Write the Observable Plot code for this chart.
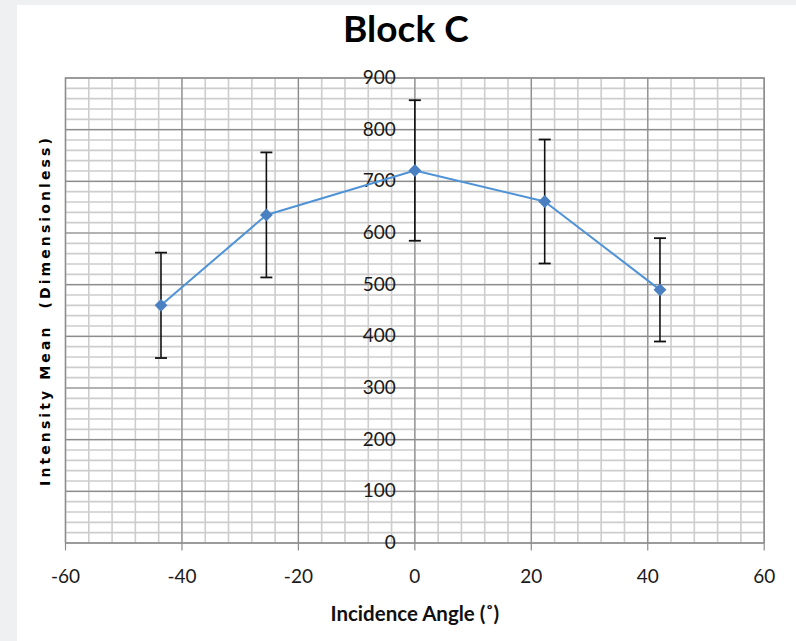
<!DOCTYPE html>
<html>
<head>
<meta charset="utf-8">
<script src="https://cdn.jsdelivr.net/npm/d3@7"></script>
<script src="https://cdn.jsdelivr.net/npm/@observablehq/plot@0.6"></script>
<style>
  html, body { margin: 0; padding: 0; }
  body { width: 796px; height: 641px; background: #eef0f2; position: relative; overflow: hidden; }
  #card { position: absolute; left: 17px; top: 5px; right: 0; bottom: 0; background: #ffffff; }
  #chart { position: absolute; left: 0; top: 0; }
</style>
</head>
<body>
<div id="card"></div>
<div id="chart"></div>
<script>
// Data
const angles = [-43.6, -25.5, 0, 22.3, 42.1];
const means  = [460, 635, 721, 661, 490];
const errors = [102, 121, 136, 120, 100];
const xTicks = [-60, -40, -20, 0, 20, 40, 60];
const yTicks = [0, 100, 200, 300, 400, 500, 600, 700, 800, 900];
const titleText = "Block C";
const xLabel = "Incidence Angle (˚)";
const yLabel = "Intensity Mean  (Dimensionless)";

const data = angles.map((a, i) => ({x: a, y: means[i], lo: means[i] - errors[i], hi: means[i] + errors[i]}));
const xMinor = d3.range(-60, 61, 4);
const yMinor = d3.range(0, 901, 20);

const capSymbol = {
  draw(context) {
    context.moveTo(-6, 0);
    context.lineTo(6, 0);
  }
};

const tickFont = "Lato, 'Open Sans', sans-serif";

const chart = Plot.plot({
  width: 796,
  height: 641,
  marginLeft: 65,
  marginRight: 32.3,
  marginTop: 77.5,
  marginBottom: 98.5,
  style: {background: "transparent", fontFamily: tickFont},
  x: {domain: [-60, 60], axis: null},
  y: {domain: [0, 900], axis: null},
  marks: [
    Plot.ruleX(xMinor, {stroke: "#cdcdcd", strokeWidth: 1.6}),
    Plot.ruleY(yMinor, {stroke: "#cdcdcd", strokeWidth: 1.6}),
    Plot.ruleX(xTicks, {stroke: "#8c8c8c", strokeWidth: 1.2}),
    Plot.ruleY(yTicks, {stroke: "#8c8c8c", strokeWidth: 1.2}),
    Plot.frame({stroke: "#8c8c8c", strokeWidth: 1.2}),
    Plot.axisX({ticks: xTicks, tickSize: 8, tickFormat: () => "", label: null, stroke: "#8c8c8c", strokeWidth: 1.2}),
    Plot.text(xTicks, {x: d => d, text: d => String(d), frameAnchor: "bottom", dy: 34, lineAnchor: "middle", fontSize: 19, fill: "#1a1a1a"}),
    Plot.text(yTicks, {x: 0, y: d => d, text: d => String(d), textAnchor: "end", dx: -19, fontSize: 19, fill: "#1a1a1a"}),
    // error bars
    Plot.ruleX(data, {x: "x", y1: "lo", y2: "hi", stroke: "#111", strokeWidth: 1.6}),
    Plot.dot(data, {x: "x", y: "lo", symbol: capSymbol, stroke: "#111", strokeWidth: 1.8, r: 6}),
    Plot.dot(data, {x: "x", y: "hi", symbol: capSymbol, stroke: "#111", strokeWidth: 1.8, r: 6}),
    // series
    Plot.line(data, {x: "x", y: "y", stroke: "#4f93d6", strokeWidth: 2}),
    Plot.dot(data, {x: "x", y: "y", symbol: "diamond2", r: 5.8, fill: "#4a7fc1", stroke: "none"}),
    // titles
    Plot.text([titleText], {frameAnchor: "top", dx: -9, dy: -48, lineAnchor: "middle", fontSize: 37, fontWeight: "bold", fill: "#000"}),
    Plot.text([xLabel], {frameAnchor: "bottom", dy: 71, lineAnchor: "middle", fontSize: 20.5, fontWeight: "bold", fill: "#111"}),
    Plot.text([yLabel], {frameAnchor: "left", dx: -20, rotate: -90, textAnchor: "middle", lineAnchor: "middle", fontSize: 14, fontWeight: "bold", fill: "#000", fontFamily: "DejaVu Sans"})
  ]
});
document.getElementById("chart").appendChild(chart);
chart.querySelectorAll("text").forEach(t => { if (t.textContent === yLabel) t.setAttribute("letter-spacing", "3.1"); });
</script>
</body>
</html>
